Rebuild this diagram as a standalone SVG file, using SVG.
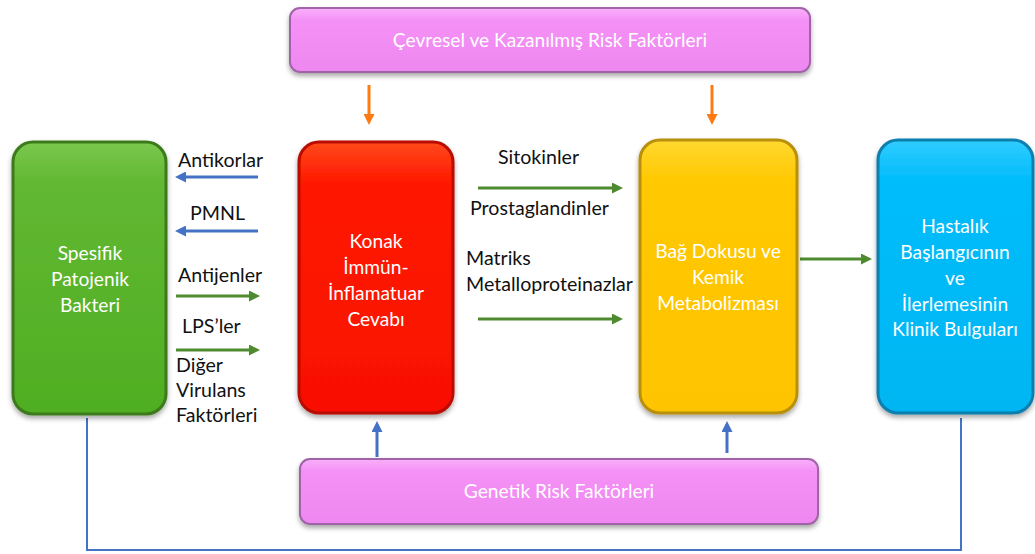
<svg xmlns="http://www.w3.org/2000/svg" width="1035" height="554" viewBox="0 0 1035 554">
<style>
.lbl{font-family:Lato,"Liberation Sans",sans-serif;font-size:19.6px;fill:#111}
.wt{font-family:Lato,"Liberation Sans",sans-serif;font-size:19.2px;fill:#fff;text-anchor:middle}
.blue{stroke:#4472c4;stroke-width:3;fill:none}
.green{stroke:#4e8a2e;stroke-width:3;fill:none}
.orange{stroke:#ff7a10;stroke-width:3;fill:none}
</style>
<defs>
<filter id="sh" x="-10%" y="-10%" width="120%" height="125%"><feDropShadow dx="0" dy="3" stdDeviation="2.5" flood-color="#000" flood-opacity="0.35"/></filter>
<linearGradient id="gG" x1="0" y1="0" x2="0" y2="1"><stop offset="0" stop-color="#7ac84e"/><stop offset="0.15" stop-color="#62b832"/><stop offset="1" stop-color="#4fae22"/></linearGradient>
<linearGradient id="gR" x1="0" y1="0" x2="0" y2="1"><stop offset="0" stop-color="#ff4a1a"/><stop offset="0.15" stop-color="#ff1800"/><stop offset="1" stop-color="#f81000"/></linearGradient>
<linearGradient id="gY" x1="0" y1="0" x2="0" y2="1"><stop offset="0" stop-color="#ffd830"/><stop offset="0.15" stop-color="#ffc800"/><stop offset="1" stop-color="#ffc400"/></linearGradient>
<linearGradient id="gB" x1="0" y1="0" x2="0" y2="1"><stop offset="0" stop-color="#30ccff"/><stop offset="0.15" stop-color="#00bcfb"/><stop offset="1" stop-color="#00b6f2"/></linearGradient>
<linearGradient id="gP" x1="0" y1="0" x2="0" y2="1"><stop offset="0" stop-color="#f8b0fa"/><stop offset="0.2" stop-color="#f490f6"/><stop offset="1" stop-color="#ee88f0"/></linearGradient>
<marker id="aB" markerWidth="11" markerHeight="11" refX="7" refY="5.5" orient="auto" markerUnits="userSpaceOnUse"><path d="M0,0 L11,5.5 L0,11 Z" fill="#4472c4"/></marker>
<marker id="aG" markerWidth="11" markerHeight="11" refX="7" refY="5.5" orient="auto" markerUnits="userSpaceOnUse"><path d="M0,0 L11,5.5 L0,11 Z" fill="#4e8a2e"/></marker>
<marker id="aO" markerWidth="11" markerHeight="11" refX="7" refY="5.5" orient="auto" markerUnits="userSpaceOnUse"><path d="M0,0 L11,5.5 L0,11 Z" fill="#ff7a10"/></marker>
</defs>

<g id="connectors">
<path class="orange" d="M369,85 V121" marker-end="url(#aO)"/>
<path class="orange" d="M712,85 V121" marker-end="url(#aO)"/>
<path class="blue" d="M258,177 H179" marker-end="url(#aB)"/>
<path class="blue" d="M258,231 H179" marker-end="url(#aB)"/>
<path class="green" d="M176,296 H256" marker-end="url(#aG)"/>
<path class="green" d="M176,350 H256" marker-end="url(#aG)"/>
<path class="green" d="M478,188 H619" marker-end="url(#aG)"/>
<path class="green" d="M478,319 H619" marker-end="url(#aG)"/>
<path class="green" d="M800,259 H868" marker-end="url(#aG)"/>
<path class="blue" d="M377,457 V425" marker-end="url(#aB)"/>
<path class="blue" d="M727,453 V425" marker-end="url(#aB)"/>
<path d="M87,418 V550 H961 V418" stroke="#4472c4" stroke-width="2" fill="none"/>
</g>

<g id="labels">
<text class="lbl" x="178" y="167">Antikorlar</text>
<text class="lbl" x="190" y="220">PMNL</text>
<text class="lbl" x="178" y="282">Antijenler</text>
<text class="lbl" x="182" y="333">LPS’ler</text>
<text class="lbl" x="176" y="372">Diğer</text>
<text class="lbl" x="176" y="397">Virulans</text>
<text class="lbl" x="176" y="422">Faktörleri</text>
<text class="lbl" x="498" y="164">Sitokinler</text>
<text class="lbl" x="470" y="215">Prostaglandinler</text>
<text class="lbl" x="466" y="265">Matriks</text>
<text class="lbl" x="466" y="291">Metalloproteinazlar</text>
</g>

<g id="env">
<rect x="290" y="8" width="520" height="64" rx="10" fill="url(#gP)" stroke="#a064a8" stroke-width="2" filter="url(#sh)"/>
<text class="wt" x="550" y="47">Çevresel ve Kazanılmış Risk Faktörleri</text>
</g>

<g id="bacteria">
<rect x="13" y="142" width="153" height="272" rx="20" fill="url(#gG)" stroke="#3c7a1c" stroke-width="3" filter="url(#sh)"/>
<text class="wt" x="90" y="260">Spesifik</text>
<text class="wt" x="90" y="286">Patojenik</text>
<text class="wt" x="90" y="312">Bakteri</text>
</g>

<g id="host">
<rect x="299" y="142" width="154" height="271" rx="20" fill="url(#gR)" stroke="#b80c00" stroke-width="3" filter="url(#sh)"/>
<text class="wt" x="376" y="248">Konak</text>
<text class="wt" x="376" y="274">İmmün-</text>
<text class="wt" x="376" y="300">İnflamatuar</text>
<text class="wt" x="376" y="326">Cevabı</text>
</g>

<g id="tissue">
<rect x="640" y="140" width="157" height="273" rx="20" fill="url(#gY)" stroke="#b8900a" stroke-width="3" filter="url(#sh)"/>
<text class="wt" x="718" y="258">Bağ Dokusu ve</text>
<text class="wt" x="718" y="284">Kemik</text>
<text class="wt" x="718" y="310">Metabolizması</text>
</g>

<g id="clinical">
<rect x="878" y="140" width="155" height="273" rx="20" fill="url(#gB)" stroke="#0a7fae" stroke-width="3" filter="url(#sh)"/>
<text class="wt" x="955" y="233">Hastalık</text>
<text class="wt" x="955" y="259">Başlangıcının</text>
<text class="wt" x="955" y="285">ve</text>
<text class="wt" x="955" y="311">İlerlemesinin</text>
<text class="wt" x="955" y="336">Klinik Bulguları</text>
</g>

<g id="genetic">
<rect x="300" y="459" width="518" height="65" rx="10" fill="url(#gP)" stroke="#a064a8" stroke-width="2" filter="url(#sh)"/>
<text class="wt" x="559" y="498">Genetik Risk Faktörleri</text>
</g>
</svg>
